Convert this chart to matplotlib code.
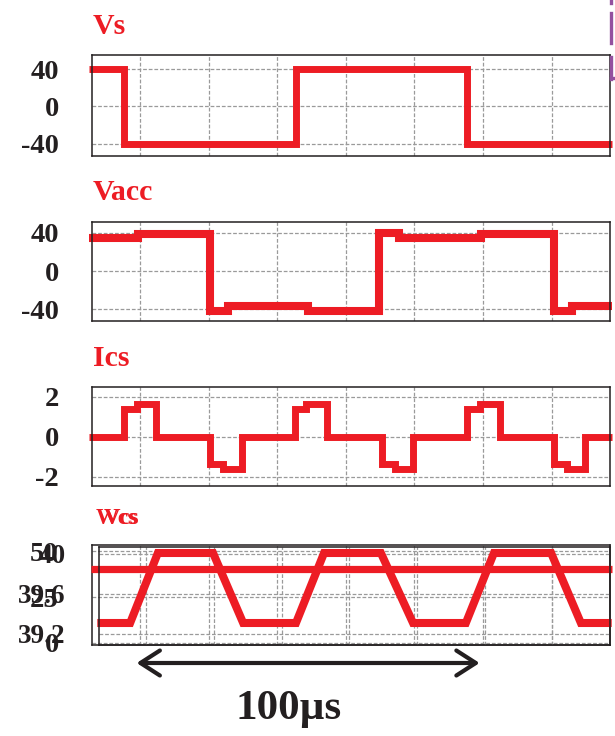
import matplotlib
matplotlib.use('Agg')
import matplotlib.pyplot as plt
from matplotlib.lines import Line2D

### DATA ###
# Time in microseconds
VS_T = [5, 15.3, 65.5, 115.3, 157.5]
VS_V = [40, -40, 40, -40, -40]

VACC_T = [5, 19.4, 40.3, 45.7, 69.1, 89.8, 95.6, 119.3, 140.6, 145.9, 157.5]
VACC_V = [35, 39, -41.5, -37, -42, 39.5, 35, 39, -41.5, -37, -37]

ICS_T = [5, 15.2, 19, 24.8, 40.3, 44.3, 49.6, 65.1, 68.5, 74.5,
         90.4, 94.4, 99.7, 115.3, 119, 124.8, 140.6, 144.6, 149.8, 157.5]
ICS_V = [0, 1.4, 1.65, 0, -1.35, -1.6, 0, 1.4, 1.65, 0,
         -1.35, -1.6, 0, 1.4, 1.65, 0, -1.35, -1.6, 0, 0]

VCS_T = [5.7, 157.5]
VCS_V = [40, 40]

WCS_T = [5.5, 15.2, 23.4, 39.7, 48.6, 64.2, 72.5, 89.3, 98.8, 114.4, 122.7, 139.6, 148.4, 157.5]
WCS_V = [39.31, 39.31, 40.01, 40.01, 39.31, 39.31, 40.01, 40.01,
         39.31, 39.31, 40.01, 40.01, 39.31, 39.31]

VS_TICKS = [-40, 0, 40]
ICS_TICKS = [-2, 0, 2]
VCS_TICKS = [0, 25, 50]
WCS_TICKS = [39.2, 39.6, 40]
WCS_TICK_LABELS = ['39.2', '39.6', '40']
TIME_GRID = [20, 40, 60, 80, 100, 120, 140]
SPAN = (19, 119)   # the 100 us marker

### STYLE ###
W, H = 615, 736
RED = '#ed1c24'
INK = '#231f20'
GRID = '#9a9a9a'
PURPLE = '#94509f'
SERIF = ['Liberation Serif', 'DejaVu Serif']
XLIM = (6, 157)


### FUNCTIONS ###
# Axes placed by pixel box (left, top, right, bottom)
def add_panel(fig, box, ylim, ticks, labels=None, face='white', size=20.5):
    l, t, r, b = box
    ax = fig.add_axes([l / W, 1 - b / H, (r - l) / W, (b - t) / H])
    ax.set_facecolor(face)
    ax.set_xlim(*XLIM)
    ax.set_ylim(*ylim)
    ax.set_xticks(TIME_GRID)
    ax.set_xticklabels([])
    ax.set_yticks(ticks)
    ax.set_yticklabels(labels if labels else [str(v) for v in ticks],
                       family=SERIF, weight='bold', fontsize=size, color=INK)
    ax.tick_params(axis='both', length=0)
    ax.tick_params(axis='y', pad=24)
    ax.grid(True, color=GRID, linestyle=(0, (3, 1.5)), linewidth=0.9)
    ax.set_axisbelow(True)
    for s in ax.spines.values():
        s.set_color(INK)
        s.set_linewidth(1.1)
    return ax


def trace(ax, t, v, lw=5.2, steps=True, **kw):
    ax.plot(t, v, color=RED, linewidth=lw, clip_on=False,
            solid_capstyle='butt', solid_joinstyle='miter',
            drawstyle='steps-post' if steps else 'default', **kw)


def title(fig, x, y, s, size=21.5):
    fig.text(x / W, 1 - y / H, s, color=RED, family=SERIF, weight='bold',
             fontsize=size, va='baseline', ha='left')


def main():
    fig = plt.figure(figsize=(W / 100, H / 100), dpi=100)

    ax_vs = add_panel(fig, (92, 55, 610, 156), (-53, 55), VS_TICKS)
    trace(ax_vs, VS_T, VS_V, lw=5.0)
    title(fig, 93, 34, 'Vs')

    ax_vacc = add_panel(fig, (92, 222, 610, 321), (-52.2, 51.2), VS_TICKS)
    trace(ax_vacc, VACC_T, VACC_V, lw=5.8)
    title(fig, 93, 200, 'Vacc')

    ax_ics = add_panel(fig, (92, 387, 610, 486), (-2.45, 2.5), ICS_TICKS)
    trace(ax_ics, ICS_T, ICS_V, lw=5.0)
    title(fig, 93, 366, 'Ics')

    # Two overlaid axes in the last panel
    ax_out = add_panel(fig, (92, 545, 610, 645), (-1.1, 53.3), VCS_TICKS)
    ax_in = add_panel(fig, (99, 547, 610, 645), (39.09, 40.07), WCS_TICKS,
                      WCS_TICK_LABELS, face='none', size=19.5)
    trace(ax_in, VCS_T, VCS_V, lw=5.2, steps=False, transform=ax_out.transData)
    trace(ax_in, WCS_T, WCS_V, lw=5.8, steps=False)
    title(fig, 104, 524, 'Vcs', size=16.5)
    title(fig, 96, 524, 'Wcs', size=16.5)

    # 100 us span marker
    ax_out.annotate('', xy=(SPAN[1], -0.18), xytext=(SPAN[0], -0.18),
                    xycoords=('data', 'axes fraction'),
                    textcoords=('data', 'axes fraction'),
                    arrowprops=dict(arrowstyle='<->,head_length=0.7,head_width=0.45',
                                    lw=3, color=INK, mutation_scale=20,
                                    shrinkA=0, shrinkB=0),
                    annotation_clip=False)
    fig.text(289 / W, 1 - 719 / H, '100µs', ha='center', va='baseline',
             family=SERIF, weight='bold', fontsize=31, color=INK)

    # Cut-off bracket at the top right edge
    for xs, ys in [((611, 611), (0, 3)), ((611, 611), (13, 43)),
                   ((611, 611), (57, 79)), ((611, 615), (78, 78))]:
        fig.add_artist(Line2D([x / W for x in xs], [1 - y / H for y in ys],
                              color=PURPLE, linewidth=2.4,
                              transform=fig.transFigure))

    fig.savefig('out.png', dpi=100)


### EXECUTION ###
if __name__ == '__main__':
    main()
